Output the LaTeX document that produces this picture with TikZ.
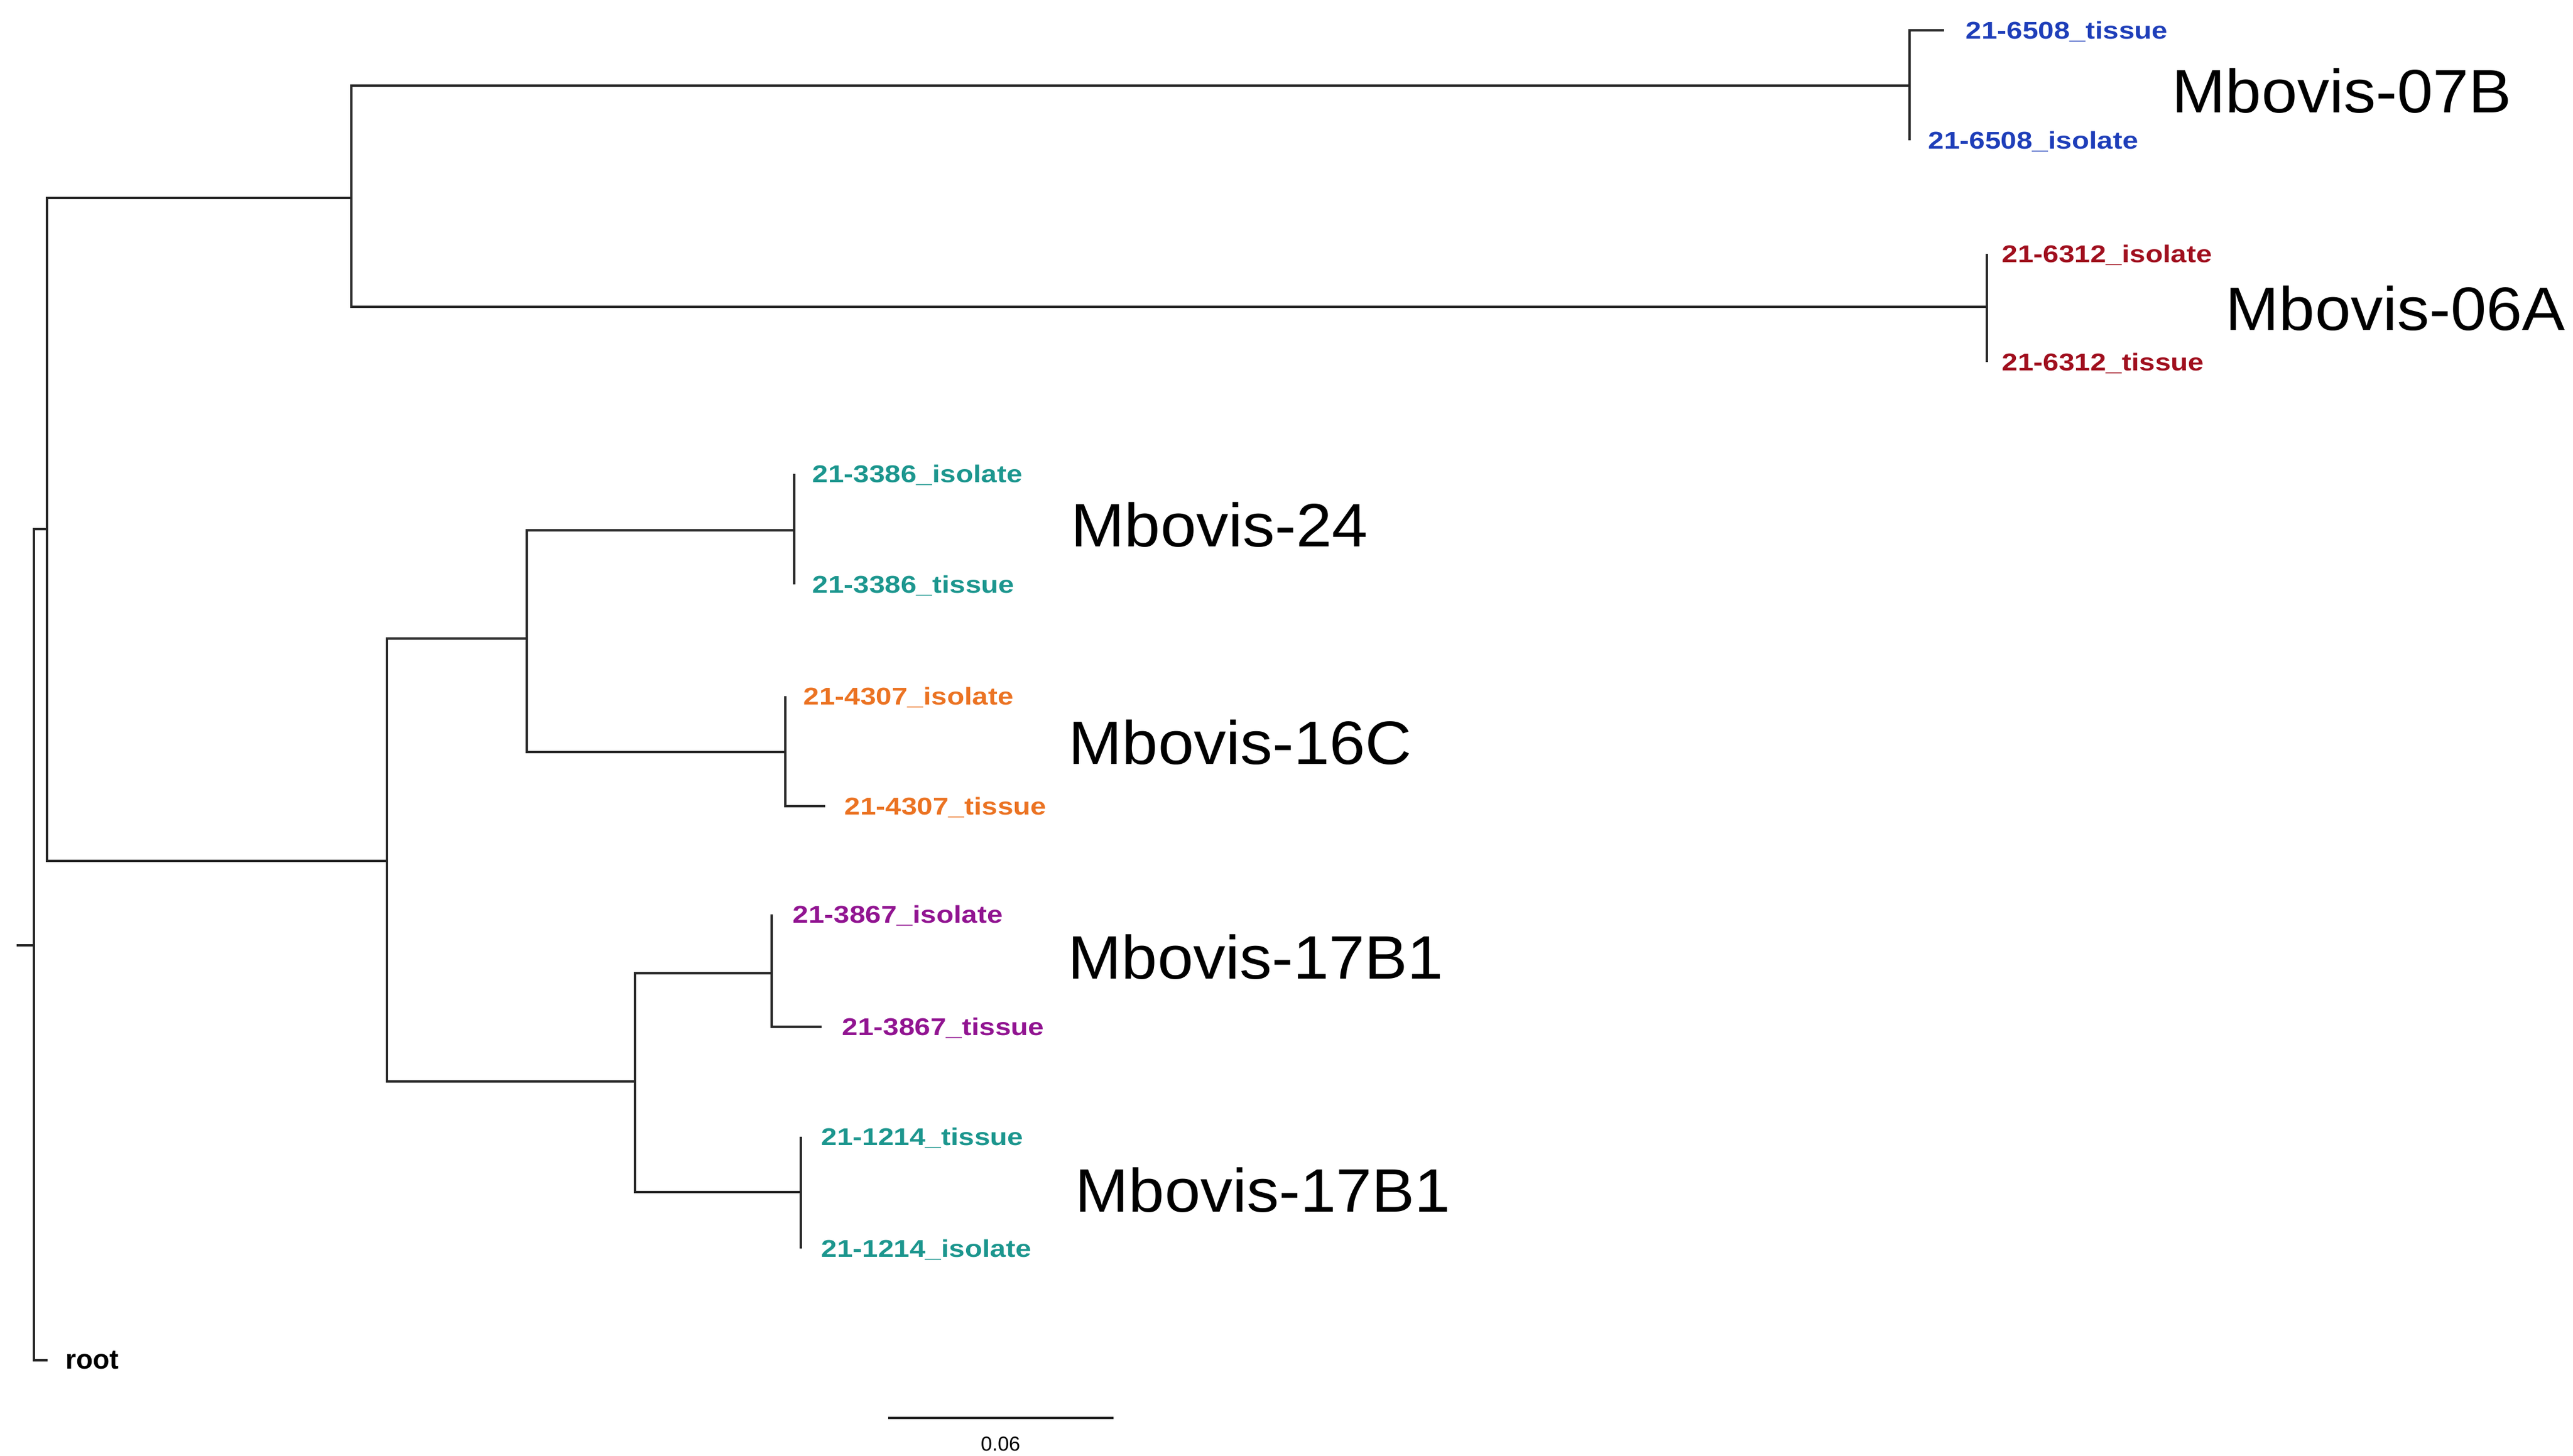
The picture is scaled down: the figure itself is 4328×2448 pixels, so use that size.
\documentclass[tikz,border=0pt]{standalone}
\usepackage{fontspec}
\setmainfont{Liberation Sans}
\newfontfamily\leaffont{Liberation Sans}[FakeStretch=1.17]
\newfontfamily\cladefont{Liberation Sans}[FakeStretch=1.05]
\usetikzlibrary{calc, positioning}
\definecolor{c6508}{RGB}{30,62,185}
\definecolor{c6312}{RGB}{160,15,30}
\definecolor{cteal}{RGB}{28,150,142}
\definecolor{c4307}{RGB}{235,115,35}
\definecolor{c3867}{RGB}{145,20,145}

\begin{document}
\begin{tikzpicture}[x=0.01cm, y=-0.01cm,
		branch/.style={line width=0.95pt, draw=black!85},
		leaf/.style={inner sep=0pt, anchor=west, text height=0.29cm, text depth=0pt},
		clade/.style={inner sep=0pt, anchor=base west}]
				\newcommand{\myleaf}[1]{
					\leaffont\bfseries\fontsize{11.6}{12}\selectfont{#1}
				}\newcommand{\myclade}[1]{
					\cladefont\fontsize{29.3}{30}\selectfont{#1}
				}\newcommand{\myroot}[1]{
					\bfseries\fontsize{13.1}{14}\selectfont{#1}
				}%Page frame
				\useasboundingbox (0,0) rectangle (4328,2448);
				%Root of the tree
				\coordinate (rootstub) at (28,1590);
				\coordinate (n0) at (57,1590);
				\coordinate (tRoot) at (80,2288);
				%Inner nodes
				\coordinate (n1) at (79,890);
				\coordinate (nB) at (591,333);
				\coordinate (nC) at (651,1448);
				\coordinate (nD) at (886,1074);
				\coordinate (nG) at (1068,1819);
				%Clade nodes
				\coordinate (c07B) at (3212,144);
				\coordinate (c06A) at (3342,516);
				\coordinate (c24) at (1336,892);
				\coordinate (c16C) at (1321,1265);
				\coordinate (c17a) at (1298,1637);
				\coordinate (c17b) at (1347,2005);
				%Leaf tips
				\coordinate (t6508t) at (3270,51);
				\coordinate (t6508i) at (3212,236);
				\coordinate (t6312i) at (3342,427);
				\coordinate (t6312t) at (3342,609);
				\coordinate (t3386i) at (1336,797);
				\coordinate (t3386t) at (1336,983);
				\coordinate (t4307i) at (1321,1171);
				\coordinate (t4307t) at (1388,1356);
				\coordinate (t3867i) at (1298,1538);
				\coordinate (t3867t) at (1382,1727);
				\coordinate (t1214t) at (1347,1912);
				\coordinate (t1214i) at (1347,2100);
				%Branches
				\draw[branch] (rootstub) -- (n0);
				\draw[branch] (n0) |- (n1) (n0) |- (tRoot);
				\draw[branch] (n1) |- (nB) (n1) |- (nC);
				\draw[branch] (nB) |- (c07B) (nB) |- (c06A);
				\draw[branch] (nC) |- (nD) (nC) |- (nG);
				\draw[branch] (nD) |- (c24) (nD) |- (c16C);
				\draw[branch] (nG) |- (c17a) (nG) |- (c17b);
				\draw[branch] (c07B) |- (t6508t) (c07B) |- (t6508i);
				\draw[branch] (c06A) |- (t6312i) (c06A) |- (t6312t);
				\draw[branch] (c24) |- (t3386i) (c24) |- (t3386t);
				\draw[branch] (c16C) |- (t4307i) (c16C) |- (t4307t);
				\draw[branch] (c17a) |- (t3867i) (c17a) |- (t3867t);
				\draw[branch] (c17b) |- (t1214t) (c17b) |- (t1214i);
				%Leaf labels
				\node (lRoot) [leaf, right=0.30cm] at (tRoot) {\myroot{root}};
				\node (l6508t) [leaf, right=0.36cm, text=c6508] at (t6508t) {\myleaf{21-6508\_tissue}};
				\node (l6508i) [leaf, right=0.31cm, text=c6508] at (t6508i) {\myleaf{21-6508\_isolate}};
				\node (l6312i) [leaf, right=0.25cm, text=c6312] at (t6312i) {\myleaf{21-6312\_isolate}};
				\node (l6312t) [leaf, right=0.25cm, text=c6312] at (t6312t) {\myleaf{21-6312\_tissue}};
				\node (l3386i) [leaf, right=0.30cm, text=cteal] at (t3386i) {\myleaf{21-3386\_isolate}};
				\node (l3386t) [leaf, right=0.30cm, text=cteal] at (t3386t) {\myleaf{21-3386\_tissue}};
				\node (l4307i) [leaf, right=0.30cm, text=c4307] at (t4307i) {\myleaf{21-4307\_isolate}};
				\node (l4307t) [leaf, right=0.32cm, text=c4307] at (t4307t) {\myleaf{21-4307\_tissue}};
				\node (l3867i) [leaf, right=0.35cm, text=c3867] at (t3867i) {\myleaf{21-3867\_isolate}};
				\node (l3867t) [leaf, right=0.34cm, text=c3867] at (t3867t) {\myleaf{21-3867\_tissue}};
				\node (l1214t) [leaf, right=0.34cm, text=cteal] at (t1214t) {\myleaf{21-1214\_tissue}};
				\node (l1214i) [leaf, right=0.34cm, text=cteal] at (t1214i) {\myleaf{21-1214\_isolate}};
				%Clade names
				\node (m07B) [clade] at (3653,189) {\myclade{Mbovis-07B}};
				\node (m06A) [clade] at (3743,555) {\myclade{Mbovis-06A}};
				\node (m24) [clade] at (1801,919) {\myclade{Mbovis-24}};
				\node (m16C) [clade] at (1797,1285) {\myclade{Mbovis-16C}};
				\node (m17a) [clade] at (1796,1646) {\myclade{Mbovis-17B1}};
				\node (m17b) [clade] at (1808,2038) {\myclade{Mbovis-17B1}};
				%Scale bar
				\coordinate (sb0) at (1494,2385);
				\coordinate (sb1) at (1873,2385);
				\draw[branch] (sb0) -- (sb1);
				\node (sbLabel) [anchor=base, inner sep=0pt] at (1683,2440) {\fontsize{9.7}{10}\selectfont 0.06};
\end{tikzpicture}
\end{document}
